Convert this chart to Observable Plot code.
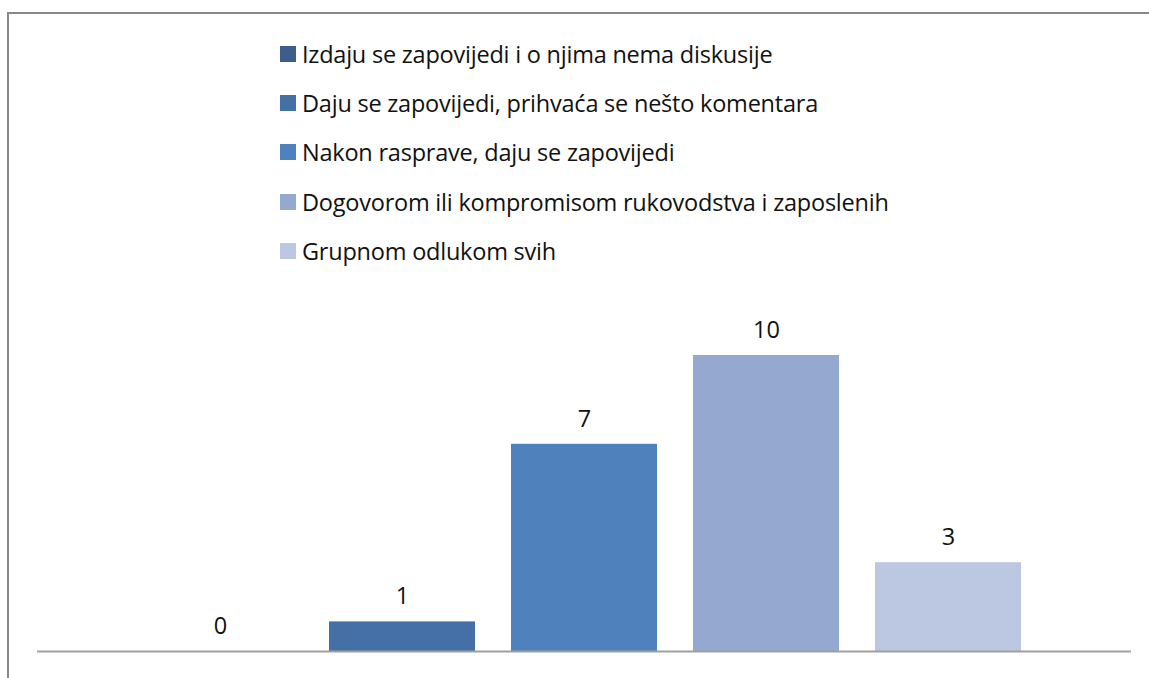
<!DOCTYPE html>
<html><head><meta charset="utf-8">
<script src="https://cdn.jsdelivr.net/npm/d3@7"></script>
<script src="https://cdn.jsdelivr.net/npm/@observablehq/plot@0.6"></script>
<style>
body{margin:0;background:#fff;}
#wrap{position:relative;width:1149px;height:678px;overflow:hidden;font-family:"Open Sans",sans-serif;}
#frame{position:absolute;left:7px;top:12px;width:1200px;height:700px;border-left:2px solid #878787;border-top:2px solid #878787;}
#legend{position:absolute;left:280px;top:29.4px;}
.li{display:flex;align-items:center;height:49.2px;font-size:23.5px;color:#111;letter-spacing:-0.22px;white-space:nowrap;}
.sw{width:16px;height:16px;margin-right:6px;flex:none;}
#chart{position:absolute;left:0;top:0;}
</style></head>
<body><div id="wrap"><div id="frame"></div><div id="legend"></div><div id="chart"></div></div>
<script>
const categories = ["Izdaju se zapovijedi i o njima nema diskusije","Daju se zapovijedi, prihvaća se nešto komentara","Nakon rasprave, daju se zapovijedi","Dogovorom ili kompromisom rukovodstva i zaposlenih","Grupnom odlukom svih"];
const values = [0, 1, 7, 10, 3];
const colors = ["#3B5E8C","#4570A6","#4F81BD","#95A9D0","#BCC8E1"];
const data = categories.map((c,i)=>({c, v: values[i]}));

const legend = document.getElementById("legend");
categories.forEach((c,i)=>{
  const d = document.createElement("div"); d.className="li";
  d.innerHTML = `<span class="sw" style="background:${colors[i]}"></span><span>${c}</span>`;
  legend.appendChild(d);
});

const plot = Plot.plot({
  width: 1149, height: 678,
  marginLeft: 37, marginRight: 18, marginTop: 355, marginBottom: 27,
  style: {background: "transparent", fontFamily: "Open Sans, sans-serif"},
  x: {domain: categories, paddingInner: 0.2, paddingOuter: 0.6, axis: null},
  y: {domain: [0, 10], axis: null},
  color: {domain: categories, range: colors},
  marks: [
    Plot.barY(data, {x: "c", y: "v", fill: "c"}),
    Plot.ruleY([0], {stroke: "#A0A0A0", strokeWidth: 2}),
    Plot.text(data, {x: "c", y: "v", text: d => String(d.v), dy: -25, fontSize: 23.5, fill: "#111", lineAnchor: "middle"})
  ]
});
document.getElementById("chart").appendChild(plot);
</script></body></html>
